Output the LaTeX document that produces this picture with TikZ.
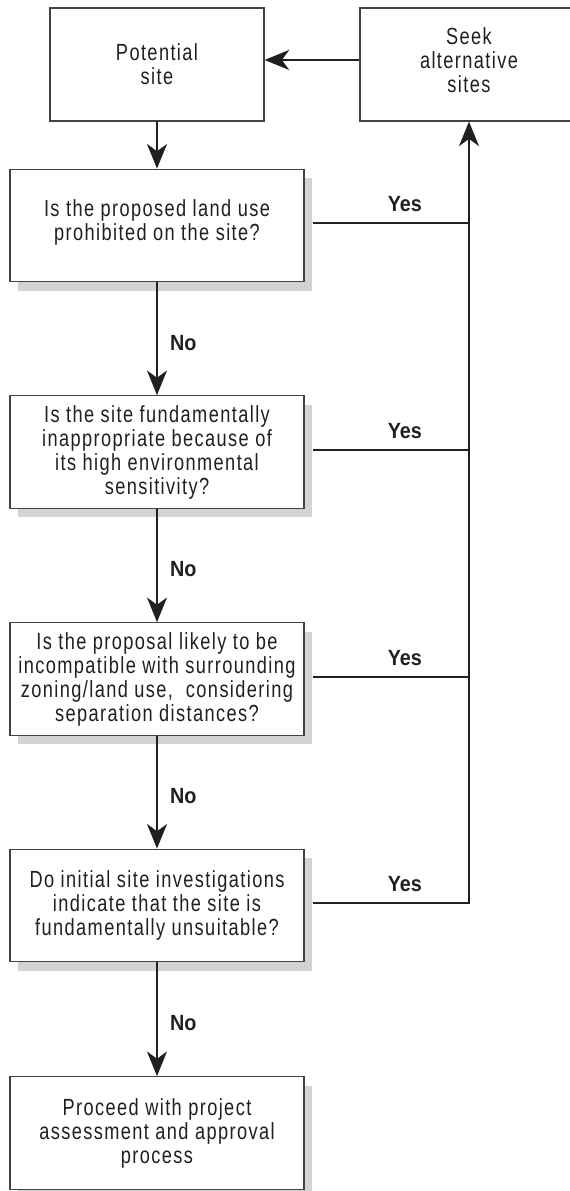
\documentclass[tikz,border=0pt]{standalone}
\usepackage{fontspec}
\setmainfont{Liberation Sans}[FakeStretch=0.78,LetterSpace=6]
\newfontfamily\labfont{Liberation Sans}[FakeStretch=0.9]
\usetikzlibrary{arrows.meta,shadows}
\definecolor{shadowgray}{RGB}{210,211,214}
\definecolor{ink}{RGB}{35,31,32}
\tikzset{
  plainbox/.style={draw=ink!85, line width=0.8pt, fill=white, align=center,
    font=\fontsize{17.5}{18}\selectfont, text=ink, inner sep=0pt},
  qbox/.style={plainbox, minimum width=220.5pt, minimum height=84.5pt,
    drop shadow={shadow xshift=6pt, shadow yshift=-6.75pt, fill=shadowgray, opacity=1}},
  conn/.style={draw=ink, line width=1.5pt},
  arr/.style={conn, -{Stealth[length=18.5pt,width=15pt,inset=5.5pt]}},
  yeslab/.style={font=\labfont\bfseries\fontsize{16.5}{18}\selectfont, text=ink, inner sep=0pt},
  nolab/.style={font=\labfont\bfseries\fontsize{16.5}{18}\selectfont, text=ink, inner sep=0pt}
}
\begin{document}
\begin{tikzpicture}[x=0.75pt,y=-0.75pt]
\useasboundingbox (0,0) rectangle (570,1191);
\node[plainbox, minimum width=160.5pt, minimum height=84.75pt] (pot) at (157,64.5) {Potential\\site};
\node[plainbox, minimum width=163.5pt, minimum height=84.75pt] (seek) at (469,64.5) {Seek\\alternative\\sites\\[-11pt]\mbox{}};
\node[qbox] (q1) at (157,225.5) {Is the proposed land use\\prohibited on the site?\\[-10pt]\mbox{}};
\node[qbox] (q2) at (157,452) {Is the site fundamentally\\inappropriate because of\\its high environmental\\sensitivity?};
\node[qbox] (q3) at (157,679) {Is the proposal likely to be\\incompatible with surrounding\\zoning/land use,\ \ considering\\separation distances?};
\node[qbox] (q4) at (157,905.5) {Do initial site investigations\\indicate that the site is\\fundamentally unsuitable?};
\node[qbox] (q5) at (157,1133) {Proceed with project\\assessment and approval\\process};

\draw[arr] ([yshift=3.4pt]seek.west) -- ([yshift=3.4pt]pot.east);
\draw[arr] (pot.south) -- (q1.north);
\draw[arr] (q1.south) -- node[nolab, right=9pt, pos=0.535] {No} (q2.north);
\draw[arr] (q2.south) -- node[nolab, right=9pt, pos=0.535] {No} (q3.north);
\draw[arr] (q3.south) -- node[nolab, right=9pt, pos=0.535] {No} (q4.north);
\draw[arr] (q4.south) -- node[nolab, right=9pt, pos=0.535] {No} (q5.north);

\coordinate (b1) at ([xshift=6pt,yshift=1.9pt]q1.east);
\coordinate (b2) at ([xshift=6pt,yshift=1.5pt]q2.east);
\coordinate (b3) at ([xshift=6pt,yshift=1.5pt]q3.east);
\coordinate (b4) at ([xshift=6pt,yshift=1.9pt]q4.east);
\draw[arr] (b4) -- node[yeslab, above=7.5pt, pos=0.59] {Yes} (b4 -| seek.south) -- (seek.south);
\draw[conn] (b1) -- node[yeslab, above=7.5pt, pos=0.59] {Yes} (b1 -| seek.south);
\draw[conn] (b2) -- node[yeslab, above=7.5pt, pos=0.59] {Yes} (b2 -| seek.south);
\draw[conn] (b3) -- node[yeslab, above=7.5pt, pos=0.59] {Yes} (b3 -| seek.south);
\end{tikzpicture}
\end{document}
